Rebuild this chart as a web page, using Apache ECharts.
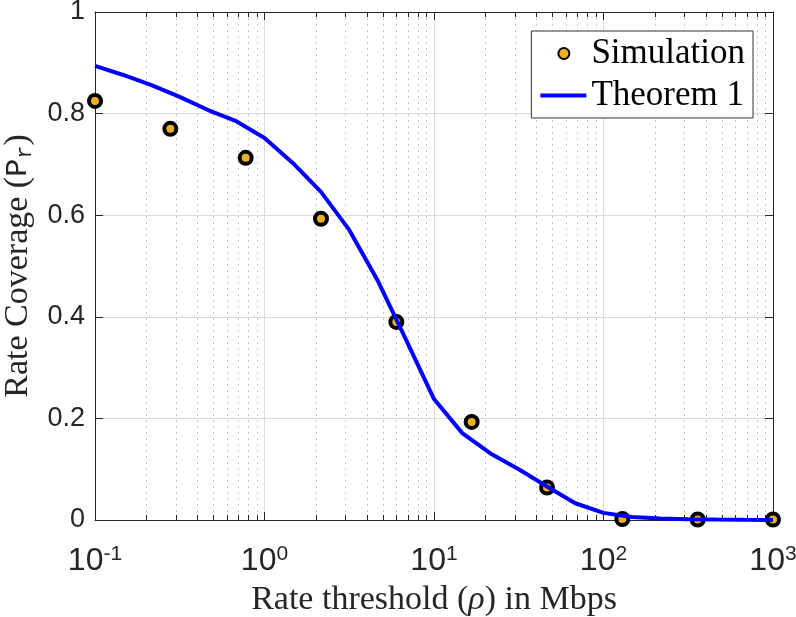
<!DOCTYPE html>
<html>
<head>
<meta charset="utf-8">
<script src="https://cdn.jsdelivr.net/npm/echarts@6/dist/echarts.min.js"></script>
<style>
  html, body { margin: 0; padding: 0; background: #fff; }
  #chart { width: 796px; height: 617px; }
</style>
</head>
<body>
<div id="chart"></div>
<script>
// 仿真点 (x: Mbps, y: 覆盖率)
const simX = [0.1, 0.2783, 0.7743, 2.154, 5.995, 16.68, 46.42, 129.2, 359.4, 1000]
const simY = [0.825, 0.770, 0.713, 0.593, 0.390, 0.193, 0.064, 0.002, 0.001, 0.001]

// 理论曲线
const thX = [0.1, 0.1468, 0.2154, 0.3162, 0.4642, 0.6813, 1, 1.468, 2.154, 3.162,
  4.642, 6.813, 10, 14.68, 21.54, 31.62, 46.42, 68.13, 100, 146.8, 215.4, 316.2,
  464.2, 681.3, 1000]
const thY = [0.894, 0.876, 0.856, 0.833, 0.807, 0.785, 0.752, 0.703, 0.646, 0.571,
  0.472, 0.356, 0.238, 0.171, 0.131, 0.100, 0.066, 0.033, 0.014, 0.006, 0.003,
  0.0015, 0.0008, 0.0004, 0.0002]

const yTicks = [0, 0.2, 0.4, 0.6, 0.8, 1]
const decades = [0.1, 1, 10, 100]

// 对数轴的次刻度 2..9
const minorX = []
decades.forEach((d) => {
  for (let k = 2; k <= 9; k++) minorX.push([+(d * k).toPrecision(3), 0])
})

const axisColor = '#262626'
const serif = 'Liberation Serif'

const chart = echarts.init(document.getElementById('chart'))

const option = {
  animation: false,
  backgroundColor: '#fff',
  grid: { left: 95, right: 23, top: 12, bottom: 97, containLabel: false, outerBoundsMode: 'none' },
  legend: {
    data: [
      { name: 'Simulation', icon: 'path://M0,0 M23.5,13 m-5.5,0 a5.5,5.5 0 1,0 11,0 a5.5,5.5 0 1,0 -11,0 M46,26' },
      { name: 'Theorem 1', icon: 'path://M0,0 M0,11 L46,11 L46,15 L0,15 Z M46,26' },
    ],
    orient: 'vertical',
    right: 43,
    top: 31,
    itemWidth: 46,
    itemHeight: 26,
    itemGap: 7,
    padding: [5, 8, 5, 8],
    borderColor: '#333',
    borderWidth: 1,
    backgroundColor: '#fff',
    textStyle: { fontFamily: serif, fontSize: 35, color: '#000', padding: [0, 0, 0, 0] },
  },
  xAxis: [
    {
      type: 'log',
      logBase: 10,
      min: 0.1,
      max: 1000,
      name: 'Rate threshold ({i|ρ}) in Mbps',
      nameLocation: 'middle',
      nameGap: 63,
      nameTextStyle: {
        fontFamily: serif,
        fontSize: 34,
        color: axisColor,
        rich: { i: { fontFamily: serif, fontStyle: 'italic', fontSize: 34, color: axisColor } },
      },
      axisLine: { show: true, onZero: false, lineStyle: { color: axisColor, width: 1 } },
      axisTick: { show: true, inside: true, length: 8, lineStyle: { color: axisColor } },
      minorTick: { show: false },
      splitLine: { show: true, lineStyle: { color: '#dcdcdc', width: 1 } },
      axisLabel: {
        margin: 24,
        color: axisColor,
        formatter: (v) => '{b|10}{s|' + Math.round(Math.log10(v)) + '}',
        rich: {
          b: { fontFamily: 'Liberation Sans', fontSize: 32, color: axisColor },
          s: {
            fontFamily: 'Liberation Sans', fontSize: 21, color: axisColor,
            verticalAlign: 'bottom', padding: [0, 0, 14, 0],
          },
        },
      },
    },
    {
      type: 'log',
      logBase: 10,
      min: 0.1,
      max: 1000,
      position: 'top',
      axisLine: { show: true, onZero: false, lineStyle: { color: axisColor } },
      axisTick: { show: true, inside: true, length: 8, lineStyle: { color: axisColor } },
      axisLabel: { show: false },
      splitLine: { show: false },
    },
  ],
  yAxis: [
    {
      type: 'value',
      min: 0,
      max: 1,
      interval: 0.2,
      name: 'Rate Coverage ({p|P}{r|r})',
      nameLocation: 'middle',
      nameGap: 59,
      nameTextStyle: {
        fontFamily: serif,
        fontSize: 34,
        color: axisColor,
        rich: {
          p: { fontFamily: 'Liberation Mono', fontSize: 30, color: axisColor },
          r: { fontFamily: 'Liberation Mono', fontSize: 22, color: axisColor, verticalAlign: 'top', padding: [14, 0, 0, 0] },
        },
      },
      axisLine: { show: true, onZero: false, lineStyle: { color: axisColor } },
      axisTick: { show: true, inside: true, length: 8, lineStyle: { color: axisColor } },
      splitLine: { show: true, lineStyle: { color: '#dcdcdc', width: 1 } },
      axisLabel: {
        margin: 10,
        fontFamily: 'Liberation Sans',
        fontSize: 27,
        color: axisColor,
        formatter: (v) => (yTicks.includes(+v.toFixed(1)) ? String(+v.toFixed(1)) : ''),
      },
    },
    {
      type: 'value',
      min: 0,
      max: 1,
      interval: 0.2,
      position: 'right',
      axisLine: { show: true, onZero: false, lineStyle: { color: axisColor } },
      axisTick: { show: true, inside: true, length: 8, lineStyle: { color: axisColor } },
      axisLabel: { show: false },
      splitLine: { show: false },
    },
  ],
  series: [
    {
      // 次网格线和次刻度
      type: 'custom',
      silent: true,
      z: 1,
      data: minorX,
      encode: { x: 0, y: 1 },
      renderItem: (params, api) => {
        const cs = params.coordSys
        const x = Math.round(api.coord([api.value(0), 0])[0]) + 0.5
        const top = cs.y
        const bottom = cs.y + cs.height
        return {
          type: 'group',
          children: [
            {
              type: 'line',
              shape: { x1: x, y1: top, x2: x, y2: bottom },
              style: { stroke: '#c8c8c8', lineWidth: 1, lineDash: [2, 4] },
            },
            {
              type: 'line',
              shape: { x1: x, y1: bottom, x2: x, y2: bottom - 5 },
              style: { stroke: axisColor, lineWidth: 1 },
            },
            {
              type: 'line',
              shape: { x1: x, y1: top, x2: x, y2: top + 5 },
              style: { stroke: axisColor, lineWidth: 1 },
            },
          ],
        }
      },
    },
    {
      name: 'Simulation',
      type: 'scatter',
      z: 3,
      symbol: 'circle',
      symbolSize: 12,
      data: simX.map((x, i) => [x, simY[i]]),
      itemStyle: { color: '#EDB120', borderColor: '#000', borderWidth: 4, opacity: 1 },
    },
    {
      name: 'Theorem 1',
      type: 'line',
      z: 4,
      symbol: 'none',
      data: thX.map((x, i) => [x, thY[i]]),
      lineStyle: { color: '#0000ff', width: 4 },
      itemStyle: { color: '#0000ff' },
    },
  ],
}

chart.setOption(option)
</script>
</body>
</html>
